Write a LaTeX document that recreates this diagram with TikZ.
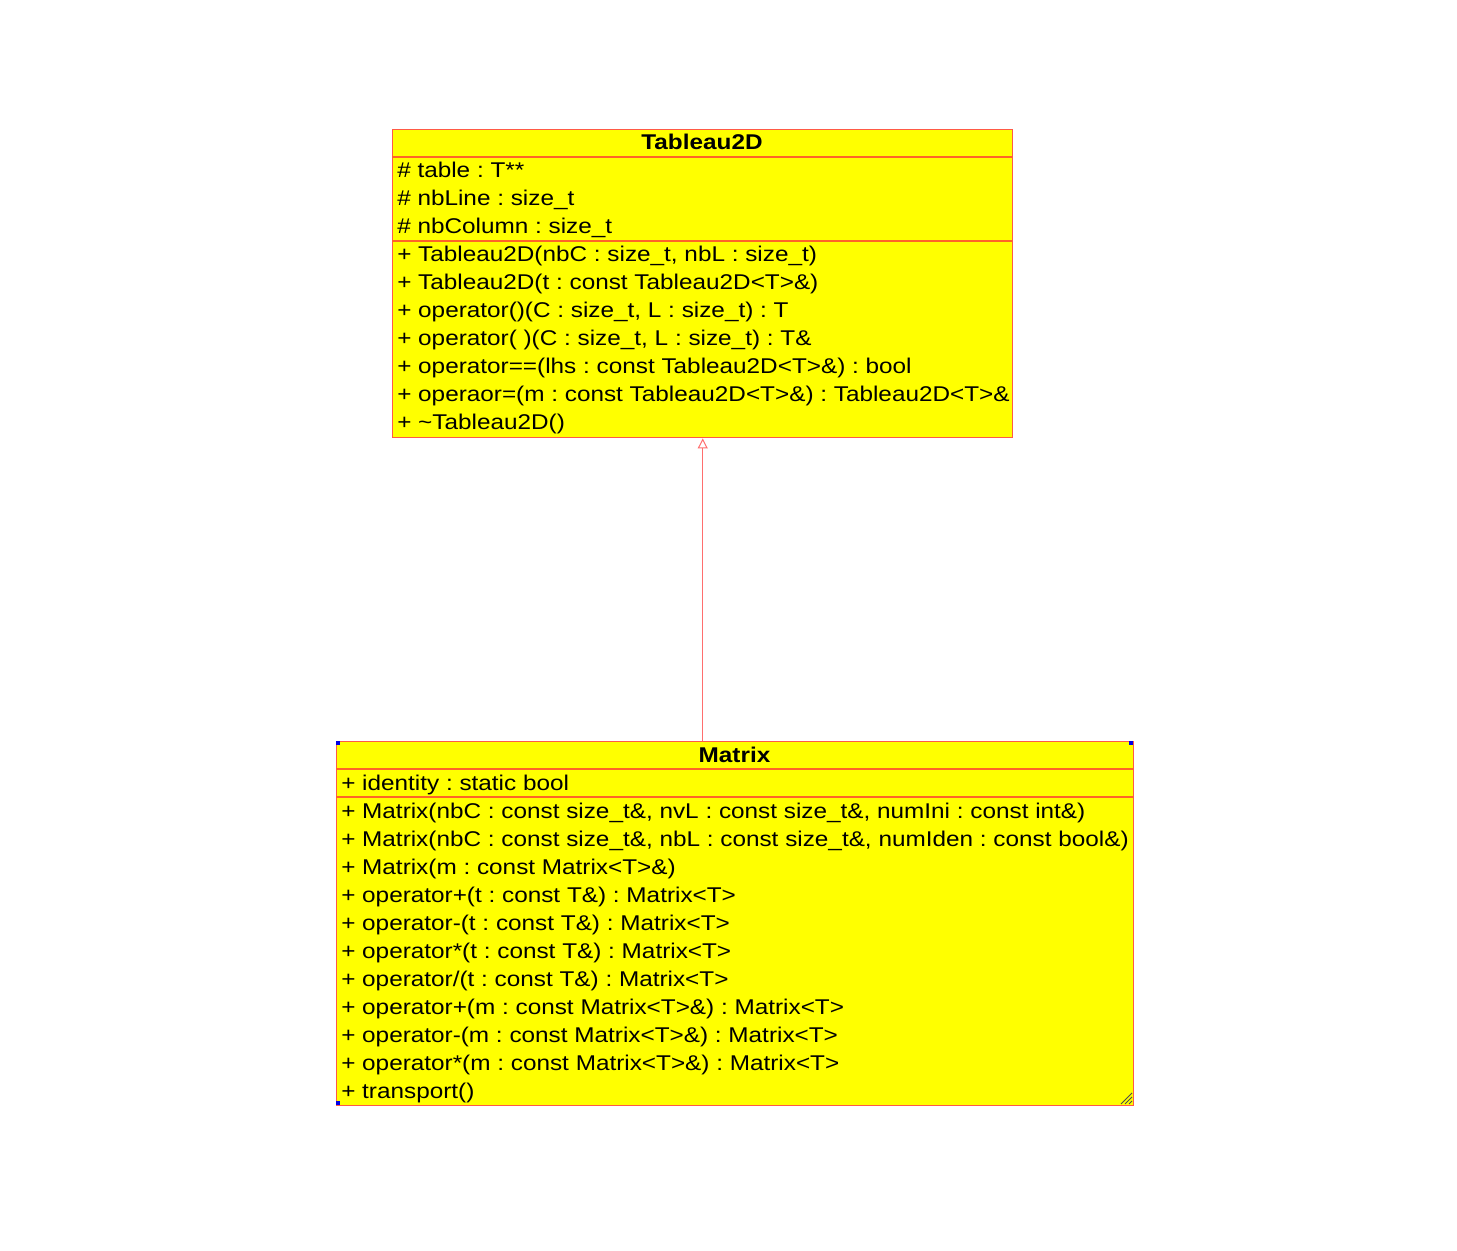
\documentclass[tikz,border=0pt]{standalone}
\usepackage{fontspec}
\setmainfont{Liberation Sans}[FakeStretch=1.14]
\usetikzlibrary{arrows.meta}
\definecolor{umlfill}{RGB}{255,255,0}
\definecolor{umlborder}{RGB}{255,90,70}
\definecolor{umlsep}{RGB}{255,100,40}
\definecolor{umlline}{RGB}{255,110,110}
\definecolor{handle}{RGB}{0,0,230}
\tikzset{
  classbox/.style={draw=umlborder, fill=umlfill, line width=1.1pt, inner sep=0pt, anchor=north west},
  sepline/.style={draw=umlsep, line width=1.1pt},
  member/.style={anchor=base west, inner sep=0pt, font=\fontsize{16}{18}\selectfont\frenchspacing},
  title/.style={anchor=base, inner sep=0pt, font=\fontsize{16}{18}\selectfont\bfseries},
  inherit/.style={draw=umlline, line width=0.75pt, -{Triangle[open, length=7.5pt, width=7.5pt]}},
  handlebox/.style={fill=handle, draw=none},
  grip/.style={draw=black!70, line width=0.6pt}
}
\begin{document}
\begin{tikzpicture}[x=0.75pt, y=-0.75pt]
\useasboundingbox (0,0) rectangle (1457,1251);

% ---------- Tableau2D ----------
\node[classbox, minimum width=465pt, minimum height=231pt] (tab) at (392,129) {};
\draw[sepline] (392,157) -- (1012,157);
\draw[sepline] (392,241) -- (1012,241);
\node[title] (tabT) at (702,150) {Tableau2D};
\node[member] (ta1) at (397,178) {\# table : T**};
\node[member] (ta2) at (397,206) {\# nbLine : size\_t};
\node[member] (ta3) at (397,234) {\# nbColumn : size\_t};
\node[member] (to1) at (397,262) {+ Tableau2D(nbC : size\_t, nbL : size\_t)};
\node[member] (to2) at (397,290) {+ Tableau2D(t : const Tableau2D<T>\&)};
\node[member] (to3) at (397,318) {+ operator()(C : size\_t, L : size\_t) : T};
\node[member] (to4) at (397,346) {+ operator(\ )(C : size\_t, L : size\_t) : T\&};
\node[member] (to5) at (397,374) {+ operator==(lhs : const Tableau2D<T>\&) : bool};
\node[member] (to6) at (397,402) {+ operaor=(m : const Tableau2D<T>\&) : Tableau2D<T>\&};
\node[member] (to7) at (397,430) {+ \char"7E Tableau2D()};

% ---------- Matrix ----------
\node[classbox, minimum width=597.75pt, minimum height=273pt] (mat) at (336,741) {};
\draw[sepline] (336,769) -- (1133,769);
\draw[sepline] (336,797) -- (1133,797);
\node[title] (matT) at (734.5,762) {Matrix};
\node[member] (ma1) at (341,790) {+ identity : static bool};
\node[member] (mo1) at (341,818) {+ Matrix(nbC : const size\_t\&, nvL : const size\_t\&, numIni : const int\&)};
\node[member] (mo2) at (341,846) {+ Matrix(nbC : const size\_t\&, nbL : const size\_t\&, numIden : const bool\&)};
\node[member] (mo3) at (341,874) {+ Matrix(m : const Matrix<T>\&)};
\node[member] (mo4) at (341,902) {+ operator+(t : const T\&) : Matrix<T>};
\node[member] (mo5) at (341,930) {+ operator-(t : const T\&) : Matrix<T>};
\node[member] (mo6) at (341,958) {+ operator*(t : const T\&) : Matrix<T>};
\node[member] (mo7) at (341,986) {+ operator/(t : const T\&) : Matrix<T>};
\node[member] (mo8) at (341,1014) {+ operator+(m : const Matrix<T>\&) : Matrix<T>};
\node[member] (mo9) at (341,1042) {+ operator-(m : const Matrix<T>\&) : Matrix<T>};
\node[member] (mo10) at (341,1070) {+ operator*(m : const Matrix<T>\&) : Matrix<T>};
\node[member] (mo11) at (341,1098) {+ transport()};

% selection handles and resize grip
\fill[handlebox] (336,741) rectangle (340,745);
\fill[handlebox] (1129,741) rectangle (1133,745);
\fill[handlebox] (336,1101) rectangle (340,1105);
\draw[grip] (1121,1104) -- (1132,1093);
\draw[grip] (1125,1104) -- (1132,1097);
\draw[grip] (1129,1104) -- (1132,1101);

% ---------- inheritance ----------
\draw[inherit] (tab.south |- mat.north) -- (tab.south);
\end{tikzpicture}
\end{document}
